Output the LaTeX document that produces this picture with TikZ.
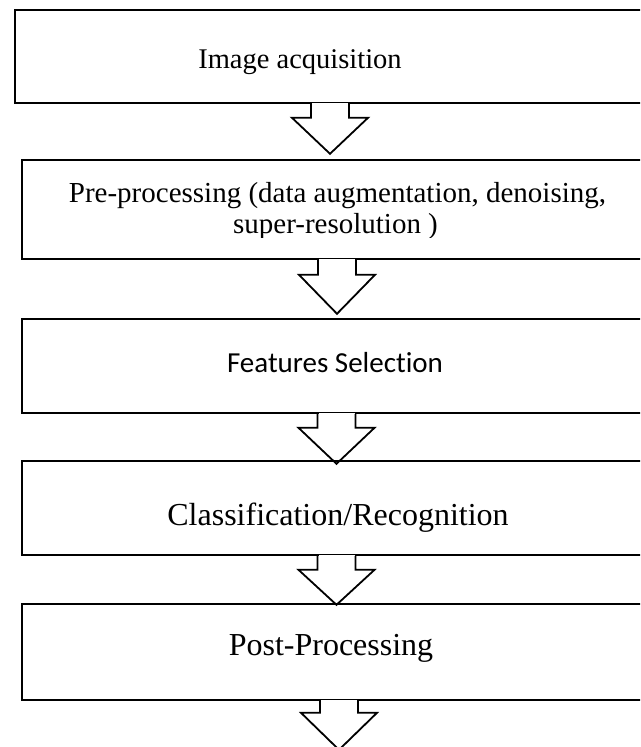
\documentclass[tikz,border=0pt]{standalone}
\usepackage{fontspec}
\setmainfont[Ligatures=NoCommon]{Liberation Serif}
\newfontfamily\calibrilike[Ligatures=NoCommon]{Carlito}
\usetikzlibrary{calc}

\tikzset{
  outline/.style={draw=black, line width=1.8pt},
  stagebox/.style={outline, rectangle, fill=white, anchor=north west, inner sep=0pt},
  caption/.style={anchor=base, inner sep=0pt, text=black},
  % hollow block arrow hanging from the bottom edge of a box;
  % #1 = depth of the shoulders, #2 = depth of the tip
  pics/blockarrow/.style 2 args={code={
    \fill[white] (-18,-1.3) rectangle (18,1.3);
    \draw[outline, line join=miter] (-19,0) -- (-19,#1) -- (-38,#1) -- (0,#2)
      -- (38,#1) -- (19,#1) -- (19,0);
  }},
}

\begin{document}
\begin{tikzpicture}[x=1pt, y=-1pt]
  \useasboundingbox (0,0) rectangle (640,747);
  \clip (0,0) rectangle (640,747);

  % stage boxes
  \node[stagebox, minimum width=646pt, minimum height=93pt] (b1) at (14,9) {};
  \node[stagebox, minimum width=639pt, minimum height=99pt] (b2) at (21,159) {};
  \node[stagebox, minimum width=639pt, minimum height=94pt] (b3) at (21,318) {};
  \node[stagebox, minimum width=639pt, minimum height=94pt] (b4) at (21,460) {};
  \node[stagebox, minimum width=639pt, minimum height=96pt] (b5) at (21,603) {};

  % stage labels
  \node[caption, font=\fontsize{28.5}{31}\selectfont] (t1) at (300,68.5) {Image acquisition};
  \node[caption, font=\fontsize{29}{31}\selectfont] (t2a) at (337.5,202)
    {Pre-processing (data augmentation, denoising,};
  \begin{scope}
    \clip (0,0) rectangle (640,237.5);
    \node[caption, font=\fontsize{29}{31}\selectfont] (t2b) at (335.5,233) {super-resolution )};
  \end{scope}
  \node[caption, font=\calibrilike\fontsize{29}{31}\selectfont] (t3) at (335,372) {Features Selection};
  \node[caption, font=\fontsize{32}{34}\selectfont] (t4) at (338,525) {Classification/Recognition};
  \node[caption, font=\fontsize{32}{34}\selectfont] (t5) at (331,655) {Post-Processing};

  % flow arrows between the stages
  \pic at ($(b1.south west)+(316,0)$) {blockarrow={14}{50}};
  \pic at ($(b2.south west)+(316,0)$) {blockarrow={15}{54}};
  \pic at ($(b3.south west)+(315.5,0)$) {blockarrow={14}{50}};
  \pic at ($(b4.south west)+(315.5,0)$) {blockarrow={14}{49}};
  \pic at ($(b5.south west)+(318,0)$) {blockarrow={12}{49}};
\end{tikzpicture}
\end{document}
